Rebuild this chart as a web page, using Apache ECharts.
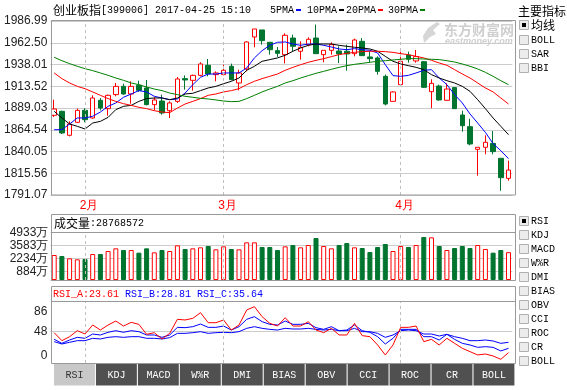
<!DOCTYPE html>
<html><head><meta charset="utf-8">
<script src="https://cdn.jsdelivr.net/npm/echarts@6/dist/echarts.min.js"></script>
<style>html,body{margin:0;padding:0;background:#fff}#c{width:567px;height:390px}</style>
</head><body><div id="c"></div>
<script>
// ---------- data ----------
const dates = ['2017-01-23','2017-01-24','2017-01-25','2017-01-26',
'2017-02-03','2017-02-06','2017-02-07','2017-02-08','2017-02-09','2017-02-10','2017-02-13','2017-02-14','2017-02-15','2017-02-16','2017-02-17','2017-02-20','2017-02-21','2017-02-22','2017-02-23','2017-02-24','2017-02-27','2017-02-28',
'2017-03-01','2017-03-02','2017-03-03','2017-03-06','2017-03-07','2017-03-08','2017-03-09','2017-03-10','2017-03-13','2017-03-14','2017-03-15','2017-03-16','2017-03-17','2017-03-20','2017-03-21','2017-03-22','2017-03-23','2017-03-24','2017-03-27','2017-03-28','2017-03-29','2017-03-30','2017-03-31',
'2017-04-05','2017-04-06','2017-04-07','2017-04-10','2017-04-11','2017-04-12','2017-04-13','2017-04-14','2017-04-17','2017-04-18','2017-04-19','2017-04-20','2017-04-21','2017-04-24','2017-04-25'];
const opens = [1880.8,1885.3,1858.3,1872.9,1886.4,1877.8,1897.7,1888.3,1904.1,1913.4,
1904.8,1914.6,1911.6,1892.8,1896.9,1886.0,1896.5,1922.1,1920.2,1925.8,
1937.1,1926.6,1926.6,1936.0,1917.2,1933.0,1969.0,1976.9,1963.0,1953.6,
1949.1,1967.8,1952.9,1960.4,1967.8,1949.1,1954.0,1953.2,1952.9,1950.2,
1964.1,1946.5,1945.4,1924.7,1896.5,1915.3,1948.7,1942.0,1941.2,1907.4,
1913.8,1897.7,1912.0,1881.2,1868.0,1842.5,1844.8,1849.2,1832.4,1809.8];
const closes = [1887.9,1860.9,1871.0,1886.4,1875.9,1900.3,1889.0,1903.3,1913.4,1904.8,
1913.4,1908.9,1892.8,1898.1,1883.4,1894.7,1921.7,1920.6,1925.8,1938.6,
1927.3,1928.5,1931.5,1921.0,1928.5,1963.4,1978.0,1964.9,1954.7,1950.6,
1970.9,1958.5,1957.4,1966.4,1950.2,1954.0,1960.4,1949.9,1949.9,1965.6,
1948.0,1944.6,1930.3,1893.5,1907.1,1941.6,1943.9,1946.9,1912.3,1916.8,
1898.1,1910.4,1888.3,1869.1,1848.5,1844.8,1850.4,1839.9,1810.6,1819.2];
const lows = [1878.9,1859.8,1857.1,1872.1,1872.9,1877.0,1886.4,1880.4,1902.2,1904.1,
1893.9,1907.1,1892.0,1886.4,1881.5,1877.8,1894.7,1909.7,1908.6,1924.7,
1924.7,1919.1,1925.8,1920.2,1908.9,1930.3,1957.4,1960.4,1949.1,1946.5,
1939.3,1952.9,1943.5,1958.5,1950.2,1940.5,1949.1,1939.7,1931.1,1947.2,
1948.0,1940.5,1926.6,1892.0,1896.5,1915.3,1940.1,1940.1,1911.6,1888.7,
1897.3,1897.3,1887.9,1862.4,1847.0,1812.8,1836.9,1836.9,1795.9,1807.2];
const highs = [1898.4,1886.0,1874.0,1888.3,1888.7,1903.3,1900.3,1904.1,1917.2,1916.4,
1919.1,1919.8,1920.6,1901.1,1904.1,1896.5,1923.9,1925.8,1926.6,1940.5,
1944.2,1930.3,1937.8,1939.0,1932.2,1964.1,1978.0,1976.9,1963.4,1957.7,
1973.1,1971.6,1964.1,1968.6,1982.9,1954.0,1963.0,1958.5,1960.4,1967.1,
1967.8,1952.9,1947.2,1926.6,1907.8,1952.5,1952.5,1954.4,1941.6,1921.3,
1915.3,1916.8,1912.0,1886.0,1877.0,1844.8,1858.3,1863.1,1832.4,1829.7];
const ma5 = [1864.6,1864.6,1871.0,1877.8,1877.8,1879.7,1884.5,1890.9,1894.7,1901.1,
1904.8,1908.6,1907.1,1902.2,1900.3,1898.4,1899.2,1905.9,1915.3,1923.6,
1927.3,1927.3,1928.5,1928.5,1928.5,1934.1,1945.4,1953.6,1959.6,1963.0,
1963.4,1961.1,1959.6,1961.1,1961.1,1959.6,1957.7,1955.5,1954.7,1955.9,
1954.7,1954.0,1951.0,1937.8,1925.5,1924.7,1925.8,1928.5,1931.5,1932.2,
1922.8,1915.3,1904.1,1894.7,1882.3,1872.1,1861.6,1848.9,1841.0,1832.0];
const ma10 = [1885.3,1877.8,1871.0,1868.4,1865.4,1872.1,1874.0,1878.5,1887.2,1890.9,
1892.0,1896.5,1899.6,1900.3,1900.3,1898.4,1900.3,1904.8,1905.6,1908.6,
1911.6,1913.4,1916.4,1919.1,1922.8,1931.5,1936.0,1941.6,1943.5,1945.4,
1948.4,1952.9,1956.6,1959.6,1961.1,1961.1,1961.1,1959.6,1958.5,1957.4,
1956.6,1955.5,1952.9,1947.2,1941.6,1938.6,1936.7,1934.8,1932.2,1926.6,
1922.8,1919.8,1917.2,1913.4,1907.8,1898.4,1888.3,1877.8,1868.4,1859.0];
const ma20 = [1928.5,1922.1,1917.2,1913.4,1910.8,1907.1,1903.3,1899.6,1896.5,1893.9,
1892.0,1889.8,1888.3,1886.0,1884.5,1883.8,1889.0,1893.5,1896.5,1899.6,
1903.3,1904.8,1907.1,1908.6,1910.8,1915.3,1919.1,1922.1,1924.7,1927.3,
1931.5,1934.8,1937.8,1940.5,1942.7,1944.6,1946.9,1949.1,1950.6,1951.7,
1952.5,1952.9,1952.9,1952.5,1951.7,1950.2,1949.1,1947.2,1945.4,1942.7,
1939.7,1937.1,1932.2,1927.3,1922.8,1917.2,1911.6,1907.1,1900.3,1893.5];
const ma30 = [1946.1,1942.3,1939.0,1936.0,1933.3,1931.1,1928.5,1925.8,1922.8,1920.2,
1917.2,1915.3,1912.7,1910.4,1908.6,1905.9,1904.1,1902.2,1901.1,1899.9,
1899.2,1898.1,1896.9,1896.2,1896.5,1899.6,1903.3,1907.1,1910.4,1913.4,
1917.2,1919.8,1922.8,1925.5,1928.1,1930.3,1932.6,1934.8,1936.7,1938.2,
1939.3,1940.5,1941.6,1942.3,1943.1,1943.9,1944.6,1944.6,1944.2,1943.9,
1943.5,1942.3,1940.8,1938.6,1936.0,1933.0,1929.2,1924.7,1919.8,1915.3];
const volumes = [2585,2482,2241,2137,2172,2689,2689,2999,3275,3102,
3102,2827,3275,2861,3102,2999,3585,3206,3275,3378,
3516,3171,3481,3206,3171,3895,3895,3413,3413,3102,
3481,3619,3378,3619,4343,3516,3275,3619,3826,3378,
3309,2895,3413,3723,2999,3516,3413,3619,4447,4412,
3516,3102,3309,3516,3309,3619,3206,2827,3102,2877];
const rsiA = [45.3,29.7,37.5,49.2,42.7,60.3,50.5,60.3,68.1,58.3,
65.5,61.6,42.1,45.3,33.0,44.0,71.4,70.1,73.3,84.4,
64.8,64.8,70.1,50.5,60.3,89.6,96.1,76.6,63.5,58.3,
74.6,58.3,58.3,66.8,50.5,45.3,53.8,40.8,40.8,63.5,
39.5,37.5,21.3,1.8,21.3,55.7,55.7,58.3,27.8,32.3,
21.3,34.3,24.5,14.8,8.3,1.8,3.7,-0.2,-6.7,6.3];
const rsiB = [32.3,24.5,31.0,36.2,34.3,42.7,40.8,46.0,49.2,46.0,
49.2,47.3,40.8,40.8,36.2,40.8,55.7,55.1,57.0,62.2,
55.7,55.7,58.3,50.5,57.0,71.4,76.6,66.8,61.6,60.3,
68.1,61.6,61.6,63.5,55.1,51.8,57.0,49.2,50.5,60.3,
49.2,46.0,37.5,23.2,34.3,51.8,51.8,51.8,37.5,37.5,
31.0,42.1,32.3,24.5,21.3,16.7,18.0,16.7,9.6,14.8];
const rsiC = [27.8,23.2,26.5,29.7,29.7,34.3,33.0,36.2,37.5,36.2,
37.5,37.5,34.3,34.3,33.0,35.6,44.0,44.0,45.3,47.3,
44.0,45.3,46.0,45.3,47.3,53.8,57.0,53.8,51.8,50.5,
53.8,52.5,52.5,53.8,51.8,50.5,51.8,49.2,49.2,53.8,
47.3,47.3,44.0,36.2,40.8,49.2,50.5,49.2,42.7,42.7,
38.8,42.1,37.5,34.3,29.7,29.7,31.0,29.1,24.5,26.5];
const priceTicks = [1791.07,1815.56,1840.05,1864.54,1889.03,1913.52,1938.01,1962.50,1986.99];
const volTicks = [0,884,2234,3583,4933];
const rsiTicks = [0,48,86];
const monthStarts = ['2017-02-03','2017-03-01','2017-04-05'];
const monthNames = ['2月','3月','4月'];
const titleName = '创业板指';
const titleCode = '[399006] 2017-04-25 15:10';
const maNames = ['5PMA','10PMA','20PMA','30PMA'];
const volTitle = '成交量';
const volValue = ':28768572';
const rsiLabels = ['RSI_A:23.61','RSI_B:28.81','RSI_C:35.64'];
const mainIndicators = ['均线','BOLL','SAR','BBI'];
const subIndicators = ['RSI','KDJ','MACD','W%R','DMI','BIAS','OBV','CCI','ROC','CR','BOLL'];

// ---------- styles ----------
const RED = '#ff0000', GREEN = '#00752f', BLUE = '#0000ff';
const maColors = [BLUE, '#000000', RED, '#008000'];
const MONO = '"Liberation Mono", monospace';
const SANS = '"Liberation Sans", Arial, sans-serif';
const CJK = '"Noto Sans CJK SC", sans-serif';
const GL = 50.35, GW = 462;

const chart = echarts.init(document.getElementById('c'), null, {renderer: 'canvas'});

const dashLines = (gridColor) => ({
  silent: true, symbol: 'none', label: {show: false}, animation: false,
  lineStyle: {color: '#c0c0c0', type: [3, 3], width: 1},
  data: monthStarts.map(d => ({xAxis: d}))
});

const G = [];
function txt(x, y, text, font, fill, align) {
  G.push({type: 'text', x: x, y: y, z: 100, silent: true,
    style: {text: text, font: font, fill: fill || '#000', align: align || 'left', verticalAlign: 'middle',
      textAlign: align || 'left', textVerticalAlign: 'middle'}});
}
function rect(x, y, w, h, fill, stroke, z) {
  G.push({type: 'rect', z: z == null ? 100 : z, silent: true, shape: {x: x, y: y, width: w, height: h},
    style: {fill: fill || 'none', stroke: stroke || null, lineWidth: 1}});
}
function hline(x1, x2, y, stroke) {
  G.push({type: 'line', z: 100, silent: true, shape: {x1: x1, y1: y, x2: x2, y2: y}, style: {stroke: stroke, lineWidth: 1}});
}

// title + MA legend
txt(53, 10, titleName, '12px ' + CJK);
txt(101, 10, titleCode, '10px ' + MONO);
const legX = [270, 307, 346, 388];
maNames.forEach((n, k) => {
  txt(legX[k], 10, n, '10px ' + MONO);
  rect(legX[k] + n.length * 6 + 2, 9, 5, 2, maColors[k], null);
});
// panel frames
rect(51.5, 20.5, 464, 174.5, null, '#999');
rect(51.5, 214.5, 464, 66, null, '#999');
txt(54, 223, volTitle, '12px ' + CJK);
txt(90, 223, volValue, '10px ' + MONO);
hline(51.5, 515.5, 232.5, '#999');
rect(51.5, 286.5, 464, 77, null, '#999');
hline(51.5, 515.5, 301.5, '#999');
const rsiCols = [RED, BLUE, BLUE];
rsiLabels.forEach((t, k) => txt(53 + k * 72, 294, t, '10px ' + MONO, rsiCols[k]));
// tabs
subIndicators.forEach((n, k) => {
  const x0 = 54 + k * 41.95;
  rect(x0, 364, 40.9, 21.5, k === 0 ? '#c8c8c8' : '#505050', null);
  txt(x0 + 20.5, 375, n, '10px ' + MONO, k === 0 ? '#333' : '#fff', 'center');
});
// right side indicator lists
txt(518, 11, '主要指标', '12px ' + CJK);
const mainY = [25, 40, 54, 68];
mainIndicators.forEach((n, k) => {
  rect(519.5, mainY[k] - 4.5, 9, 9, '#ececec', '#b0b0b0');
  if (k === 0) rect(522, mainY[k] - 2, 4, 4, '#000', null);
  txt(531, mainY[k], n, k === 0 ? '12px ' + CJK : '10px ' + MONO);
});
subIndicators.forEach((n, k) => {
  const y = 221 + k * 14;
  rect(519.5, y - 4.5, 9, 9, '#ececec', '#b0b0b0');
  if (k === 0) rect(522, y - 2, 4, 4, '#000', null);
  txt(531, y, n, '10px ' + MONO);
});
// watermark
G.push({type: 'text', x: 444, y: 30, z: 0, silent: true,
  style: {text: '东方财富网', font: 'bold 14px ' + CJK, fill: '#cfcfcf', verticalAlign: 'middle', textVerticalAlign: 'middle'}});
G.push({type: 'text', x: 445, y: 41.5, z: 0, silent: true,
  style: {text: 'eastmoney.com', font: 'bold italic 9px ' + SANS, fill: '#cfcfcf', verticalAlign: 'middle', textVerticalAlign: 'middle'}});
G.push({type: 'polygon', z: 0, silent: true,
  shape: {points: [[437, 22], [428, 28], [423, 36], [424, 43], [430, 37], [436, 34], [433, 30], [440, 24]]},
  style: {fill: '#d6d6d6'}});

const volData = volumes.map((v, i) => ({
  value: v,
  itemStyle: closes[i] >= opens[i]
    ? {color: '#fff', borderColor: RED, borderWidth: 1}
    : {color: GREEN, borderColor: GREEN, borderWidth: 1}
}));

const catAxis = (gi, showLabel) => ({
  type: 'category', gridIndex: gi, data: dates, boundaryGap: true,
  axisLine: {show: false}, axisTick: {show: false}, splitLine: {show: false},
  axisLabel: showLabel ? {
    show: true, margin: 5, color: RED, fontSize: 12, fontFamily: SANS, padding: [0, 0, 0, 8],
    interval: (idx, val) => monthStarts.indexOf(val) >= 0,
    formatter: (val) => monthNames[monthStarts.indexOf(val)] || ''
  } : {show: false}
});

const option = {
  animation: false,
  backgroundColor: '#fff',
  grid: [
    {left: GL, top: 21, width: GW, height: 174},
    {left: GL, top: 232.3, width: GW, height: 47.7},
    {left: GL, top: 301.7, width: GW, height: 61.3}
  ],
  xAxis: [catAxis(0, true), catAxis(1, false), catAxis(2, false)],
  yAxis: [
    {type: 'value', gridIndex: 0, min: 1791.07, max: 1986.99, scale: true,
     axisLine: {show: false}, axisTick: {show: false, customValues: priceTicks},
     axisLabel: {customValues: priceTicks, margin: 3, color: '#222', fontSize: 12, fontFamily: SANS,
       formatter: v => v.toFixed(2)},
     splitLine: {show: true, lineStyle: {color: '#cccccc', width: 1}}},
    {type: 'value', gridIndex: 1, min: 0, max: 4933,
     axisLine: {show: false}, axisTick: {show: false, customValues: volTicks},
     axisLabel: {customValues: volTicks, margin: 2, color: '#222', fontSize: 12, fontFamily: SANS,
       formatter: v => v === 0 ? '0' : v + '万'},
     splitLine: {show: true, lineStyle: {color: '#cccccc', width: 1}}},
    {type: 'value', gridIndex: 2, min: -13.9, max: 105.8,
     axisLine: {show: false}, axisTick: {show: false, customValues: [48]},
     axisLabel: {customValues: rsiTicks, margin: 3, color: '#222', fontSize: 12, fontFamily: SANS},
     splitLine: {show: true, lineStyle: {color: '#cccccc', width: 1}}}
  ],
  graphic: {elements: G},
  series: [
    {type: 'candlestick', xAxisIndex: 0, yAxisIndex: 0, barWidth: 5, z: 3,
     data: dates.map((d, i) => [opens[i], closes[i], lows[i], highs[i]]),
     itemStyle: {color: '#fff', color0: GREEN, borderColor: RED, borderColor0: GREEN, borderWidth: 1},
     markLine: dashLines()},
    ...[ma5, ma10, ma20, ma30].map((arr, k) => ({
      type: 'line', xAxisIndex: 0, yAxisIndex: 0, data: arr, showSymbol: false, symbol: 'none', z: 4,
      lineStyle: {color: maColors[k], width: 1}, silent: true})),
    {type: 'bar', xAxisIndex: 1, yAxisIndex: 1, barWidth: 5, data: volData, z: 3, markLine: dashLines()},
    ...[rsiA, rsiB, rsiC].map((arr, k) => ({
      type: 'line', xAxisIndex: 2, yAxisIndex: 2, data: arr, showSymbol: false, symbol: 'none', z: 4 - k,
      lineStyle: {color: rsiCols[k], width: 1}, silent: true,
      markLine: k === 0 ? dashLines() : undefined}))
  ]
};
chart.setOption(option);
</script></body></html>
